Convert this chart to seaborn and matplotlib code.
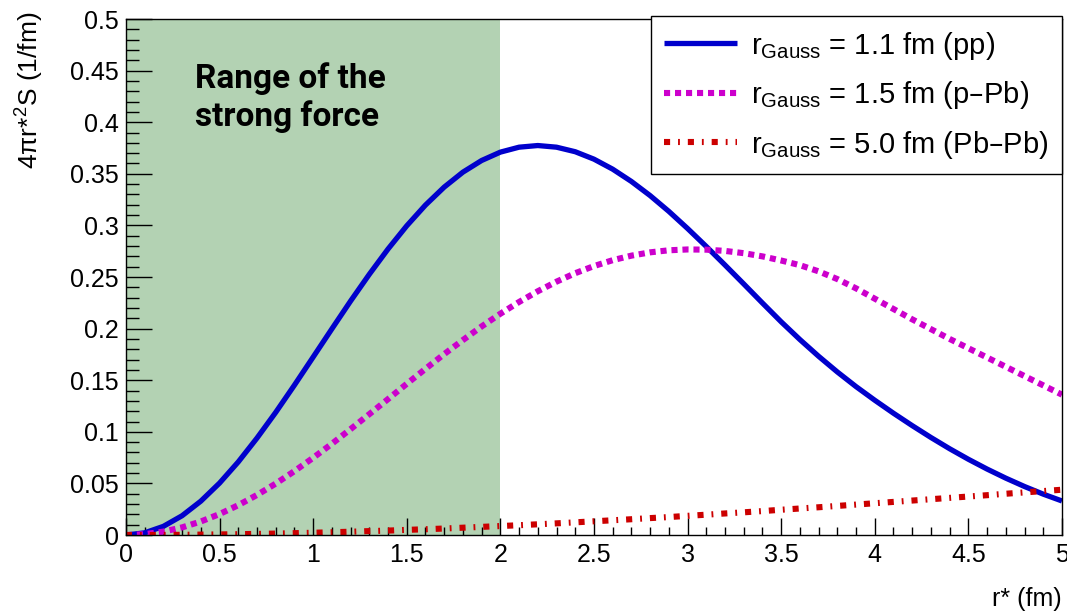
import numpy as np
import pandas as pd
import matplotlib
matplotlib.use("Agg")
import matplotlib.pyplot as plt
import seaborn as sns
from matplotlib.ticker import MultipleLocator

# ---------------- data ----------------
r_star = [0.0, 0.1, 0.2, 0.3, 0.4, 0.5, 0.6, 0.7, 0.8, 0.9,
          1.0, 1.1, 1.2, 1.3, 1.4, 1.5, 1.6, 1.7, 1.8, 1.9,
          2.0, 2.1, 2.2, 2.3, 2.4, 2.5, 2.6, 2.7, 2.8, 2.9,
          3.0, 3.1, 3.2, 3.3, 3.4, 3.5, 3.6, 3.7, 3.8, 3.9,
          4.0, 4.1, 4.2, 4.3, 4.4, 4.5, 4.6, 4.7, 4.8, 4.9, 5.0]

pp = [0.0, 0.0021, 0.0084, 0.0187, 0.0328, 0.0503, 0.0708, 0.0939, 0.1188, 0.1452,
      0.1724, 0.1997, 0.2267, 0.2526, 0.2771, 0.2996, 0.3197, 0.3371, 0.3516, 0.3629,
      0.3710, 0.3758, 0.3774, 0.3758, 0.3714, 0.3642, 0.3545, 0.3426, 0.3289, 0.3136,
      0.2970, 0.2796, 0.2616, 0.2433, 0.2248, 0.2066, 0.1894, 0.1732, 0.1580, 0.1438,
      0.1306, 0.1180, 0.1060, 0.0945, 0.0836, 0.0734, 0.0639, 0.0551, 0.0470, 0.0396, 0.0330]

pPb = [0.0, 0.0008, 0.0033, 0.0074, 0.0131, 0.0203, 0.0289, 0.0388, 0.0498, 0.0619,
       0.0748, 0.0884, 0.1026, 0.1171, 0.1317, 0.1465, 0.1610, 0.1753, 0.1889, 0.2021,
       0.2144, 0.2258, 0.2362, 0.2455, 0.2537, 0.2606, 0.2663, 0.2707, 0.2739, 0.2759,
       0.2767, 0.2765, 0.2753, 0.2731, 0.2700, 0.2660, 0.2615, 0.2555, 0.2480, 0.2390,
       0.2290, 0.2190, 0.2090, 0.1995, 0.1900, 0.1810, 0.1720, 0.1630, 0.1540, 0.1450, 0.1360]

PbPb = [0.0, 0.0000, 0.0001, 0.0002, 0.0004, 0.0006, 0.0008, 0.0011, 0.0014, 0.0018,
        0.0022, 0.0027, 0.0032, 0.0038, 0.0043, 0.0050, 0.0056, 0.0063, 0.0071, 0.0079,
        0.0087, 0.0095, 0.0104, 0.0113, 0.0123, 0.0133, 0.0143, 0.0153, 0.0164, 0.0174,
        0.0186, 0.0197, 0.0209, 0.0220, 0.0232, 0.0245, 0.0257, 0.0269, 0.0282, 0.0295,
        0.0308, 0.0321, 0.0334, 0.0347, 0.0360, 0.0373, 0.0386, 0.0400, 0.0413, 0.0426, 0.0439]

labels = [r"r$_{\mathregular{Gauss}}$ = 1.1 fm (pp)",
          r"r$_{\mathregular{Gauss}}$ = 1.5 fm (p–Pb)",
          r"r$_{\mathregular{Gauss}}$ = 5.0 fm (Pb–Pb)"]
colors = ["#0000cc", "#cc00cc", "#cc0000"]
strong_range = [0.0, 2.0]
x_ticks = [0, 0.5, 1, 1.5, 2, 2.5, 3, 3.5, 4, 4.5, 5]
x_ticklabels = ["0", "0.5", "1", "1.5", "2", "2.5", "3", "3.5", "4", "4.5", "5"]
y_ticks = [0, 0.05, 0.1, 0.15, 0.2, 0.25, 0.3, 0.35, 0.4, 0.45, 0.5]
y_ticklabels = ["0", "0.05", "0.1", "0.15", "0.2", "0.25", "0.3", "0.35", "0.4", "0.45", "0.5"]
x_label = "r* (fm)"
y_label = r"4$\pi$r*$^{2}$S (1/fm)"
band_text = "Range of the\nstrong force"

# ---------------- styling ----------------
sns.set_theme(style="ticks")
plt.rcParams["font.family"] = ["Liberation Sans", "DejaVu Sans"]
plt.rcParams["mathtext.default"] = "regular"
plt.rcParams["axes.linewidth"] = 1.0
plt.rcParams["text.color"] = "black"
plt.rcParams["axes.labelcolor"] = "black"

fig = plt.figure(figsize=(10.67, 6.13), dpi=100)
ax = fig.add_axes([0.118, 0.1272, 0.8773, 0.8418])

ax.axvspan(strong_range[0], strong_range[1], color="#b3d2b3", lw=0, zorder=0)

series = [pp, pPb, PbPb]
styles = ["-", (0, (1.0, 0.8)), (0, (1.0, 1.3, 0.3, 1.3))]
widths = [3.8, 4.4, 4.4]
handles = []
for vals, col, ls, lw, lab in zip(series, colors, styles, widths, labels):
    df = pd.DataFrame({"r": r_star, "v": vals})
    sns.lineplot(data=df, x="r", y="v", ax=ax, color=col, lw=lw, zorder=3)
    line = ax.lines[-1]
    line.set_linestyle(ls)
    line.set_dash_capstyle("butt")
    line.set_solid_capstyle("butt")
    line.set_solid_joinstyle("round")
    line.set_label(lab)
    handles.append(line)

ax.set_xlim(0, 5)
ax.set_ylim(0, 0.5)
ax.xaxis.set_major_locator(MultipleLocator(0.5))
ax.xaxis.set_minor_locator(MultipleLocator(0.1))
ax.yaxis.set_major_locator(MultipleLocator(0.05))
ax.yaxis.set_minor_locator(MultipleLocator(0.01))
ax.set_xticks(x_ticks)
ax.set_xticklabels(x_ticklabels)
ax.set_yticks(y_ticks)
ax.set_yticklabels(y_ticklabels)

ax.tick_params(axis="both", which="both", direction="in", colors="black",
               labelsize=18, width=1.0, top=False, right=False)
ax.tick_params(axis="x", which="major", length=12, pad=6)
ax.tick_params(axis="x", which="minor", length=6)
ax.tick_params(axis="y", which="major", length=19, pad=5)
ax.tick_params(axis="y", which="minor", length=9.5)
for sp in ax.spines.values():
    sp.set_visible(True)
    sp.set_color("black")
    sp.set_zorder(5)
ax.set_axisbelow(False)

ax.set_xlabel(x_label, fontsize=18, loc="right", labelpad=14)
ax.set_ylabel(y_label, fontsize=19, ha="right")
ax.yaxis.set_label_coords(-0.085, 1.015)

ax.text(0.37, 0.39, band_text, transform=ax.transData, fontsize=24,
        fontweight="bold", family=["Roboto", "DejaVu Sans"], color="black",
        va="bottom", ha="left", linespacing=1.2, zorder=4)

leg = ax.legend(handles=handles, loc="upper right", bbox_to_anchor=(1.0, 1.005),
                borderaxespad=0, fontsize=21, handlelength=2.5, handletextpad=0.5,
                labelspacing=0.6, borderpad=0.45, frameon=True, fancybox=False)
leg.get_frame().set_edgecolor("black")
leg.get_frame().set_linewidth(1.0)
leg.get_frame().set_alpha(1)
leg.set_zorder(10)

fig.savefig("out.png", dpi=100, facecolor="white")
